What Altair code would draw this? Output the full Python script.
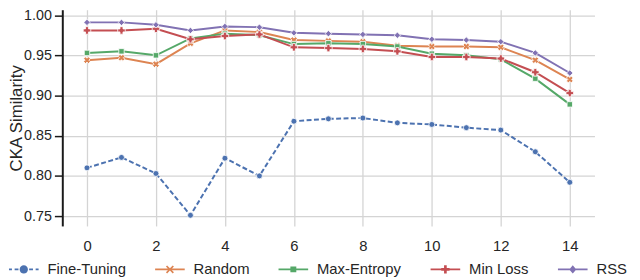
import altair as alt
import pandas as pd

# ---- data ----
x_vals = list(range(15))
series_names = ["Fine-Tuning", "Random", "Max-Entropy", "Min Loss", "RSS"]
fine_tuning = [0.810, 0.823, 0.803, 0.751, 0.822, 0.800, 0.868, 0.871, 0.872, 0.866, 0.864, 0.860, 0.857, 0.830, 0.792]
random_sel = [0.944, 0.947, 0.939, 0.965, 0.981, 0.979, 0.969, 0.968, 0.967, 0.962, 0.961, 0.961, 0.960, 0.944, 0.920]
max_entropy = [0.953, 0.955, 0.950, 0.971, 0.977, 0.975, 0.964, 0.965, 0.964, 0.961, 0.952, 0.950, 0.945, 0.921, 0.889]
min_loss = [0.981, 0.981, 0.983, 0.970, 0.974, 0.976, 0.960, 0.959, 0.958, 0.955, 0.948, 0.948, 0.946, 0.929, 0.903]
rss = [0.991, 0.991, 0.988, 0.981, 0.986, 0.985, 0.978, 0.977, 0.976, 0.975, 0.970, 0.969, 0.967, 0.953, 0.928]
x_ticks = [0, 2, 4, 6, 8, 10, 12, 14]
y_ticks = [0.75, 0.80, 0.85, 0.90, 0.95, 1.00]

colors = ["#4c72b0", "#dd8452", "#55a868", "#c44e52", "#8172b3"]

series_values = [fine_tuning, random_sel, max_entropy, min_loss, rss]
rows = []
for name, vals in zip(series_names, series_values):
    for x, v in zip(x_vals, vals):
        rows.append({"series": name, "x": x, "y": v})
df = pd.DataFrame(rows)

FONT = "Liberation Sans"
TXT = "#262626"

# legend symbols: line segment + marker (custom paths)
L = "M-1,-0.065H1V0.065H-1Z"
legend_paths = [
    "M-1,-0.065H-0.8V0.065H-1Z M-0.62,-0.065H-0.36V0.065H-0.62Z M0.36,-0.065H0.62V0.065H0.36Z M0.8,-0.065H1V0.065H0.8Z "
    "M-0.28,0A0.28,0.28 0 1,1 0.28,0A0.28,0.28 0 1,1 -0.28,0Z",
    L + " M-0.27,-0.19L-0.19,-0.27L0,-0.08L0.19,-0.27L0.27,-0.19L0.08,0L0.27,0.19L0.19,0.27L0,0.08L-0.19,0.27L-0.27,0.19L-0.08,0Z",
    L + " M-0.2,-0.2H0.2V0.2H-0.2Z",
    L + " M-0.09,-0.28H0.09V-0.09H0.28V0.09H0.09V0.28H-0.09V0.09H-0.28V-0.09H-0.09Z",
    L + " M0,-0.28L0.24,0L0,0.28L-0.24,0Z",
]

legend_cfg = alt.Legend(
    orient="none", legendX=-54, legendY=248, direction="horizontal", title=None,
    symbolSize=900, symbolStrokeWidth=0, symbolOpacity=1,
    labelFont=FONT, labelFontSize=15, labelColor=TXT, labelOffset=9,
    columnPadding=29,
)

x_enc = alt.X("x:Q", scale=alt.Scale(domain=[-0.716, 14.716], nice=False, zero=False),
              axis=alt.Axis(values=x_ticks, domain=False, ticks=False, grid=True,
                            gridColor="#d4d4d4", gridWidth=1.3, labelFont=FONT,
                            labelFontSize=15, labelColor=TXT, labelPadding=13, title=None))
y_enc = alt.Y("y:Q", scale=alt.Scale(domain=[0.73771, 1.00676], nice=False, zero=False),
              axis=alt.Axis(values=y_ticks, format=".2f", domain=True, domainColor="#1a1a1a",
                            domainWidth=2, ticks=True, tickColor="#1a1a1a", tickSize=8,
                            tickWidth=1.5, labelPadding=3, labelFont=FONT, labelFontSize=14.5,
                            labelColor=TXT, grid=True, gridColor="#d4d4d4", gridWidth=1.3,
                            title="CKA Similarity", titleFont=FONT, titleFontSize=17,
                            titleFontWeight="normal", titleColor=TXT, titleX=-46, titleY=109.5,
                            titleBaseline="middle", titleAlign="center"))

legend_layer = alt.Chart(df).mark_point(filled=True, opacity=1, size=900, clip=True).encode(
    x=alt.value(-500), y=alt.value(-500),
    color=alt.Color("series:N", scale=alt.Scale(domain=series_names, range=colors), legend=legend_cfg),
    shape=alt.Shape("series:N", scale=alt.Scale(domain=series_names, range=legend_paths), legend=legend_cfg),
)

marker_specs = [
    dict(shape="circle", size=36),
    dict(shape="cross", size=48, angle=45),
    dict(shape="square", size=30),
    dict(shape="cross", size=58),
    dict(shape="diamond", size=42),
]

layers = [legend_layer]
for i, name in enumerate(series_names):
    base = alt.Chart(df).transform_filter(alt.datum.series == name)
    line_kwargs = dict(color=colors[i], strokeWidth=2, strokeCap="butt")
    if name == "Fine-Tuning":
        line_kwargs["strokeDash"] = [5, 2.5]
    layers.append(base.mark_line(**line_kwargs).encode(x=x_enc, y=y_enc))
    layers.append(base.mark_point(filled=True, opacity=1, color=colors[i], stroke="white",
                                  strokeWidth=0.8, **marker_specs[i]).encode(x=x_enc, y=y_enc))

chart = alt.layer(*layers).properties(
    width=539, height=219,
    autosize=alt.AutoSizeParams(type="none"),
    padding={"left": 55, "top": 0, "right": 38, "bottom": 53},
).configure_view(strokeWidth=0)

chart.save("out.html", embed_options={"renderer": "svg", "actions": False})
